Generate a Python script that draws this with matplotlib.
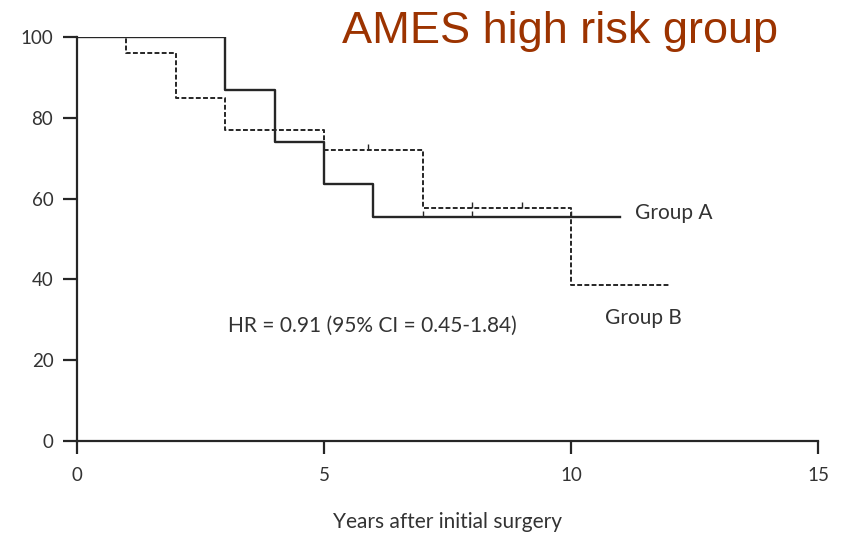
import matplotlib.pyplot as plt

# Kaplan-Meier steps
a_years = [0, 3, 4, 5, 6, 11]
a_surv = [100, 87, 74, 63.5, 55.5, 55.5]
a_cens_x = [7, 8, 10]
a_cens_y = [55.5, 55.5, 55.5]

b_years = [0, 1, 2, 3, 5, 7, 10, 12]
b_surv = [100, 96, 85, 77, 72, 57.7, 38.5, 38.5]
b_cens_x = [5.9, 8, 9]
b_cens_y = [72, 57.7, 57.7]

x_ticks = [0, 5, 10, 15]
y_ticks = [0, 20, 40, 60, 80, 100]

fig = plt.figure(figsize=(8.46, 5.33), dpi=100)
ax = fig.add_axes([0.091, 0.1726, 0.876, 0.758])

ink = '#262626'
txt = '#333333'
ax.step(a_years, a_surv, where='post', color=ink, lw=1.7)
ax.step(b_years, b_surv, where='post', color=ink, lw=1.4, linestyle=(0, (2.5, 1.2)))
ax.plot(a_cens_x, a_cens_y, linestyle='none', marker=2, markersize=4, color=ink, mew=1)
ax.plot(b_cens_x, b_cens_y, linestyle='none', marker=2, markersize=4, color=ink, mew=1)

ax.set_xlim(0, 15)
ax.set_ylim(0, 100)
ax.set_xticks(x_ticks)
ax.set_yticks(y_ticks)
for s in ['top', 'right']:
    ax.spines[s].set_visible(False)
for s in ['left', 'bottom']:
    ax.spines[s].set_color(ink)
    ax.spines[s].set_linewidth(1.6)
ax.tick_params(axis='y', direction='out', length=10, width=1.6, color=ink,
               labelsize=13.5, labelcolor=txt, pad=7)
ax.tick_params(axis='x', direction='out', length=9, width=1.6, color=ink,
               labelsize=13.5, labelcolor=txt, pad=10)
for lab in ax.get_xticklabels() + ax.get_yticklabels():
    lab.set_family('Lato')
ax.set_xlabel('Years after initial surgery', family='Lato', fontsize=15,
              color=txt, labelpad=20)

ax.text(11.3, 56.4, 'Group A', family='Lato', fontsize=15, color=txt,
        va='center', ha='left')
ax.text(10.69, 30.4, 'Group B', family='Lato', fontsize=15, color=txt,
        va='center', ha='left')
ax.text(3.06, 28.5, 'HR = 0.91 (95% CI = 0.45-1.84)', family='Lato', fontsize=15,
        color=txt, va='center', ha='left')

fig.text(0.662, 0.94, 'AMES high risk group', family='Liberation Sans',
         fontsize=32.5, color='#9c3300', ha='center', va='center')

fig.savefig('out.png', dpi=100)
